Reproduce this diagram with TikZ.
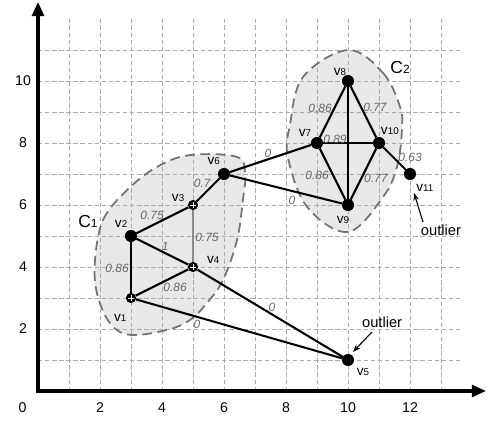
\documentclass[tikz,border=0pt]{standalone}
\usepackage{fontspec}
\setmainfont{Liberation Sans}
\usetikzlibrary{arrows.meta}
\definecolor{gridc}{HTML}{ABABAB}
\definecolor{blobfill}{HTML}{E8E8E8}
\definecolor{blobedge}{HTML}{727272}
\definecolor{wcol}{HTML}{666666}
\definecolor{grayedge}{HTML}{8A8A8A}
\newcommand{\vsub}[1]{{\fontsize{12.5}{12.5}\selectfont v}{\fontsize{9}{9}\selectfont #1}}
\newcommand{\csub}[1]{{\fontsize{16}{16}\selectfont C}{\fontsize{11}{11}\selectfont #1}}
\begin{document}
\begin{tikzpicture}[
 gridline/.style={gridc, line width=0.8pt, dash pattern=on 4pt off 2.5pt},
 blob/.style={blobedge, line width=1.6pt, dash pattern=on 9pt off 5pt},
 edge/.style={line width=1.9pt, black},
 bignode/.style={circle, fill=black, inner sep=0pt, minimum size=0.38cm},
 smallnode/.style={circle, fill=black, inner sep=0pt, minimum size=0.32cm,
   path picture={\draw[white, line width=0.6pt, shift={(path picture bounding box.center)}]
     (-0.09,0) -- (0.09,0) (0,-0.09) -- (0,0.09);}},
 wlab/.style={text=wcol, font=\fontsize{11}{11}\selectfont\itshape, inner sep=0pt},
 vlab/.style={inner sep=0pt},
 axlab/.style={font=\fontsize{13}{13}\selectfont, inner sep=0pt},
 axisline/.style={line width=2.8pt, {Triangle[length=13pt,width=11pt]}-{Triangle[length=13pt,width=11pt]}},
 outarrow/.style={line width=1pt, -{Stealth[length=7pt,width=5pt]}},
 outtext/.style={font=\fontsize{13.5}{13.5}\selectfont, inner sep=0pt},
]
\useasboundingbox (-1.226,-1.065) rectangle (14.484,12.613);

% cluster fills
\path[fill=blobfill] plot[smooth cycle, tension=0.6] coordinates {
 (1.84,4.23) (2.1,5.52) (2.87,6.48) (3.84,7.23) (4.9,7.61) (6.42,7.55) (6.68,7.0)
 (6.61,6.16) (6.42,4.87) (5.97,3.58) (5.45,2.84) (4.9,2.29) (4.16,1.97) (2.97,1.81)
 (2.32,2.19) (1.9,3.16)};
\path[fill=blobfill] plot[smooth cycle, tension=0.6] coordinates {
 (10.0,11.0) (11.13,10.26) (11.68,9.16) (11.74,8.42) (11.58,7.23) (11.13,6.26)
 (10.0,5.13) (8.68,5.94) (8.06,7.55) (8.13,8.6) (8.55,10.13)};

% grid
\foreach \x in {1,...,13} \draw[gridline] (\x,0) -- (\x,12);
\foreach \y in {1,...,11} \draw[gridline] (0,\y) -- (13.7,\y);

% cluster borders
\draw[blob] plot[smooth cycle, tension=0.6] coordinates {
 (1.84,4.23) (2.1,5.52) (2.87,6.48) (3.84,7.23) (4.9,7.61) (6.42,7.55) (6.68,7.0)
 (6.61,6.16) (6.42,4.87) (5.97,3.58) (5.45,2.84) (4.9,2.29) (4.16,1.97) (2.97,1.81)
 (2.32,2.19) (1.9,3.16)};
\draw[blob] plot[smooth cycle, tension=0.6] coordinates {
 (10.0,11.0) (11.13,10.26) (11.68,9.16) (11.74,8.42) (11.58,7.23) (11.13,6.26)
 (10.0,5.13) (8.68,5.94) (8.06,7.55) (8.13,8.6) (8.55,10.13)};

% axes
\coordinate (O) at (0,0);
\coordinate (xe) at (14.45,0);
\coordinate (ye) at (0,12.55);
\draw[axisline] (ye) -- (O) -- (xe);

% axis labels
\node[axlab] (x0) at (-0.5,-0.55) {0};
\foreach \x in {2,4,...,12} \node[axlab] (x\x) at (\x,-0.55) {\x};
\foreach \y in {2,4,...,10} \node[axlab] (y\y) at (-0.48,\y) {\y};

% nodes
\node[smallnode] (v1) at (3,3) {};
\node[bignode] (v2) at (3,5) {};
\node[smallnode] (v3) at (5,6) {};
\node[smallnode] (v4) at (5,4) {};
\node[bignode] (v5) at (10,1) {};
\node[bignode] (v6) at (6,7) {};
\node[bignode] (v7) at (9,8) {};
\node[bignode] (v8) at (10,10) {};
\node[bignode] (v9) at (10,6) {};
\node[bignode] (v10) at (11,8) {};
\node[bignode] (v11) at (12,7) {};

% edges
\draw[edge] (v1) -- (v2);
\draw[edge] (v2) -- (v3);
\draw[edge] (v2) -- (v4);
\draw[edge, grayedge] (v3) -- (v4);
\draw[edge] (v1) -- (v4);
\draw[edge] (v3) -- (v6);
\draw[edge] (v6) -- (v7);
\draw[edge] (v6) -- (v9);
\draw[edge] (v7) -- (v8);
\draw[edge] (v8) -- (v10);
\draw[edge] (v7) -- (v10);
\draw[edge] (v8) -- (v9);
\draw[edge] (v7) -- (v9);
\draw[edge] (v9) -- (v10);
\draw[edge] (v10) -- (v11);
\draw[edge] (v4) -- (v5);
\draw[edge] (v1) -- (v5);

% redraw nodes on top
\node[smallnode] at (v1) {};
\node[bignode] at (v2) {};
\node[smallnode] at (v3) {};
\node[smallnode] at (v4) {};
\node[bignode] at (v5) {};
\node[bignode] at (v6) {};
\node[bignode] at (v7) {};
\node[bignode] at (v8) {};
\node[bignode] at (v9) {};
\node[bignode] at (v10) {};
\node[bignode] at (v11) {};

% edge weights
\node[wlab] (w23) at (3.68,5.65) {0.75};
\node[wlab] (w36) at (5.30,6.70) {0.7};
\node[wlab] (w24) at (4.10,4.65) {1};
\node[wlab] (w34) at (5.45,4.94) {0.75};
\node[wlab] (w12) at (2.55,3.97) {0.86};
\node[wlab] (w14) at (4.42,3.35) {0.86};
\node[wlab] (w15) at (5.13,2.16) {0};
\node[wlab] (w45) at (7.55,2.71) {0};
\node[wlab] (w78) at (9.10,9.13) {0.86};
\node[wlab] (w810) at (10.87,9.16) {0.77};
\node[wlab] (w710) at (9.58,8.13) {0.89};
\node[wlab] (w1011) at (12.0,7.55) {0.63};
\node[wlab] (w67) at (7.42,7.65) {0};
\node[wlab] (w79) at (9.0,6.94) {0.86};
\node[wlab] (w910) at (10.9,6.87) {0.77};
\node[wlab] (w69) at (8.19,6.16) {0};

% node labels
\node[vlab] (l1) at (2.65,2.35) {\vsub{1}};
\node[vlab] (l2) at (2.68,5.39) {\vsub{2}};
\node[vlab] (l3) at (4.52,6.23) {\vsub{3}};
\node[vlab] (l4) at (5.65,4.23) {\vsub{4}};
\node[vlab] (l5) at (10.48,0.61) {\vsub{5}};
\node[vlab] (l6) at (5.67,7.41) {\vsub{6}};
\node[vlab] (l7) at (8.61,8.32) {\vsub{7}};
\node[vlab] (l8) at (9.74,10.29) {\vsub{8}};
\node[vlab] (l9) at (9.84,5.52) {\vsub{9}};
\node[vlab] (l10) at (11.35,8.39) {\vsub{10}};
\node[vlab] (l11) at (12.48,6.55) {\vsub{11}};

% cluster labels
\node[inner sep=0pt] (c1) at (1.61,5.47) {\csub{1}};
\node[inner sep=0pt] (c2) at (11.68,10.45) {\csub{2}};

% outliers
\node[outtext] (o11) at (13.0,5.19) {outlier};
\node[outtext] (o5) at (11.1,2.23) {outlier};
\coordinate (a11s) at (12.42,5.45);
\coordinate (a11e) at (12.13,6.39);
\coordinate (a5s) at (10.77,1.90);
\coordinate (a5e) at (10.16,1.26);
\draw[outarrow] (a11s) -- (a11e);
\draw[outarrow] (a5s) -- (a5e);
\end{tikzpicture}
\end{document}
